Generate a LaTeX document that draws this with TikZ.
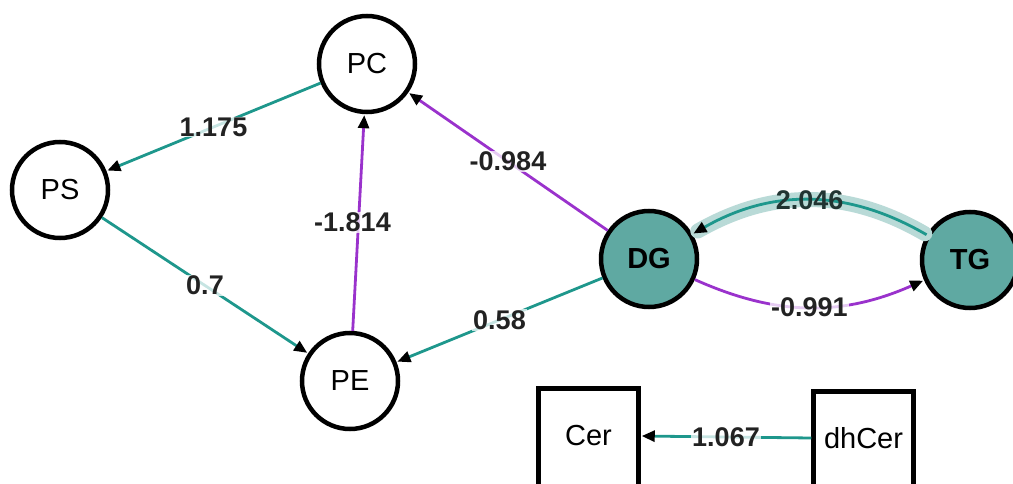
\documentclass[tikz,border=0pt]{standalone}
\usepackage{fontspec}
\setmainfont{Liberation Sans}
\usetikzlibrary{arrows.meta}
\definecolor{edgeteal}{HTML}{1E978C}
\definecolor{nodeteal}{HTML}{5FA9A2}
\definecolor{haloteal}{HTML}{B9DAD7}
\definecolor{edgepurple}{HTML}{9A32CC}
\definecolor{labelgray}{HTML}{222222}
\tikzset{
  x=1pt, y=-1pt,
  lipid/.style={circle, draw=black, line width=4.5pt, minimum size=96pt, inner sep=0pt,
    font=\fontsize{29}{32}\selectfont},
  hub/.style={lipid, fill=nodeteal, font=\fontsize{29}{32}\selectfont\bfseries},
  boxnode/.style={rectangle, draw=black, line width=4.5pt, minimum width=100pt, minimum height=110pt,
    inner sep=0pt},
  boxlabel/.style={font=\fontsize{29}{32}\selectfont, inner sep=0pt},
  tipblack/.tip={Triangle[color=black, fill=black, length=13pt, width=11pt]},
  link/.style={line width=2.8pt, -tipblack, shorten >=1pt},
  pos link/.style={link, draw=edgeteal},
  neg link/.style={link, draw=edgepurple},
  weight/.style={font=\fontsize{27}{30}\selectfont\bfseries, text=labelgray,
    fill=white, fill opacity=0.75, text opacity=1, inner sep=1pt}
}
\begin{document}
\begin{tikzpicture}
\useasboundingbox (0,0) rectangle (1013,484);

% lipid class nodes
\node[lipid] (PC) at (367,64) {PC};
\node[lipid] (PS) at (60,190) {PS};
\node[lipid] (PE) at (350,381) {PE};
\node[hub] (DG) at (649,259) {DG};
\node[hub] (TG) at (970,260) {TG};

% ceramide boxes
\node[boxnode, anchor=north] (Cer) at (588.5,386) {};
\node[boxnode, anchor=north] (dhCer) at (863.5,389) {};
\node[boxlabel] (CerL) at (588.5,436) {Cer};
\node[boxlabel] (dhCerL) at (863.5,438) {dhCer};

% straight connections
\draw[pos link] (PC) -- node[weight, pos=0.5] {1.175} (PS);
\draw[pos link] (PS) -- node[weight, pos=0.5] {0.7} (PE);
\draw[neg link] (PE) -- node[weight, pos=0.5, xshift=-6pt] {-1.814} (PC);
\draw[neg link] (DG) -- node[weight, pos=0.5] {-0.984} (PC);
\draw[pos link] (DG) -- node[weight, pos=0.5] {0.58} (PE);

% curved connections between DG and TG
\draw[haloteal, line width=15pt, line cap=round, shorten >=6pt, shorten <=2pt]
  (TG) to[bend right=30] (DG);
\draw[pos link] (TG) to[bend right=30] node[weight, pos=0.5, fill opacity=0, text=labelgray!85!edgeteal] {2.046} (DG);
\draw[neg link] (DG) to[bend right=24] node[weight, pos=0.5] {-0.991} (TG);

% ceramide connection
\draw[pos link] (dhCerL.west -| dhCer.west) -- node[weight, pos=0.5] {1.067} (CerL.east -| Cer.east);
\end{tikzpicture}
\end{document}
